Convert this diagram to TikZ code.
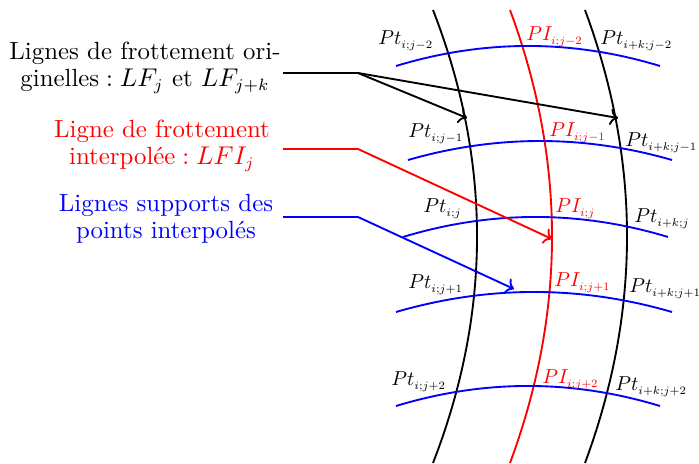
\documentclass[tikz,border=0pt]{standalone}
\usepackage{tikz}
\usepackage{graphicx}
\usetikzlibrary{positioning,calc,arrows.meta}
\newcommand{\etiq}[2]{\scalebox{0.86}{$#1_{\scalebox{0.8}{$\scriptstyle #2$}}$}}

\begin{document}
\begin{tikzpicture}[x=0.015cm,y=-0.015cm,
    pt/.style={inner sep=0pt,anchor=base west},
    legende/.style={align=center,font=\fontsize{10.6}{11.6}\selectfont}]
  \useasboundingbox (0,0) rectangle (699,464);
  % lignes de frottement
  \draw[thick] (433,10) .. controls (491.7,161) and (491.7,312) .. (433,463);
  \draw[thick,red] (510,10) .. controls (566,161) and (566,312) .. (510,463);
  \draw[thick] (585,10) .. controls (641,161) and (641,312) .. (585,463);
  % lignes supports
  \draw[thick,blue] (396,66) .. controls (484,39.3) and (572,39.3) .. (660,66);
  \draw[thick,blue] (408,160) .. controls (496,134.7) and (584,134.7) .. (672,160);
  \draw[thick,blue] (403,237) .. controls (491,210.3) and (580,210.3) .. (668,237);
  \draw[thick,blue] (396,312) .. controls (488,285.3) and (580,285.3) .. (672,312);
  \draw[thick,blue] (396,406) .. controls (484,379.3) and (572,379.3) .. (660,406);
  % points
  \node[pt] (ptA) at (378,45) {\etiq{Pt}{i;j-2}};
  \node[pt,text=red] (piA) at (526,41) {\etiq{PI}{i;j-2}};
  \node[pt] (pkA) at (600,45) {\etiq{Pt}{i+k;j-2}};
  \node[pt] (ptB) at (408,138) {\etiq{Pt}{i;j-1}};
  \node[pt,text=red] (piB) at (549,137) {\etiq{PI}{i;j-1}};
  \node[pt] (pkB) at (625,147) {\etiq{Pt}{i+k;j-1}};
  \node[pt] (ptC) at (423,213) {\etiq{Pt}{i;j}};
  \node[pt,text=red] (piC) at (555,213) {\etiq{PI}{i;j}};
  \node[pt] (pkC) at (634,223) {\etiq{Pt}{i+k;j}};
  \node[pt] (ptD) at (408,289) {\etiq{Pt}{i;j+1}};
  \node[pt,text=red] (piD) at (554,287) {\etiq{PI}{i;j+1}};
  \node[pt] (pkD) at (629,293) {\etiq{Pt}{i+k;j+1}};
  \node[pt] (ptE) at (391,386) {\etiq{Pt}{i;j+2}};
  \node[pt,text=red] (piE) at (542,384) {\etiq{PI}{i;j+2}};
  \node[pt] (pkE) at (615,391) {\etiq{Pt}{i+k;j+2}};
  % legendes
  \node[legende] (lfo) at (145,68) {Lignes de frottement ori-\\ginelles\;:\;$LF_j$ et $LF_{j+k}$};
  \node[legende,text=red] (lfi) at (162,146) {Ligne de frottement\\interpol\'ee\;:\;$LFI_j$};
  \node[legende,text=blue] (lsp) at (166,219) {Lignes supports des\\points interpol\'es};
  \coordinate (lfoA) at (283,73);
  \coordinate (lfoB) at (358,73);
  \coordinate (lfoL) at (467,118);
  \coordinate (lfoR) at (618,118);
  \coordinate (lfiA) at (283,149);
  \coordinate (lfiB) at (358,149);
  \coordinate (lfiP) at (552,239);
  \coordinate (lspA) at (283,217);
  \coordinate (lspB) at (358,217);
  \coordinate (lspP) at (514,289);
  \draw[thick,->] (lfoA) -- (lfoB) -- (lfoL);
  \draw[thick,->] (lfoB) -- (lfoR);
  \draw[thick,red,->] (lfiA) -- (lfiB) -- (lfiP);
  \draw[thick,blue,->] (lspA) -- (lspB) -- (lspP);
\end{tikzpicture}
\end{document}
